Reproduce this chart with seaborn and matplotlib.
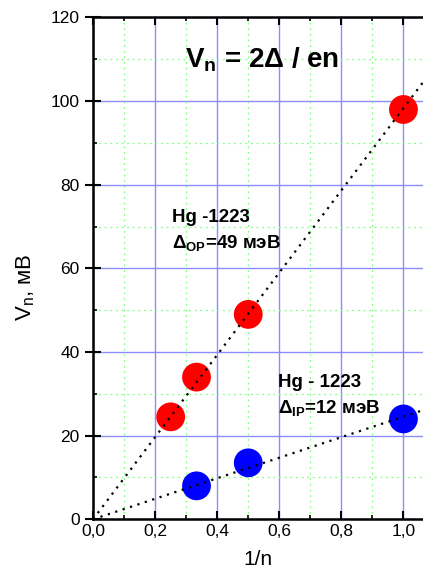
import numpy as np
import pandas as pd
import seaborn as sns
import matplotlib.pyplot as plt
from matplotlib.ticker import MultipleLocator, FuncFormatter

# data
x_op = [0.25, 1 / 3, 0.5, 1.0]
v_op = [24.5, 34.0, 49.0, 98.0]
x_ip = [1 / 3, 0.5, 1.0]
v_ip = [8.0, 13.5, 24.0]
x_max = 1.063

sns.set_style("ticks")
plt.rcParams["font.family"] = ["Liberation Sans", "DejaVu Sans"]
plt.rcParams["mathtext.fontset"] = "custom"
plt.rcParams["mathtext.rm"] = "Liberation Sans"
plt.rcParams["mathtext.it"] = "Liberation Sans"
plt.rcParams["mathtext.bf"] = "Liberation Sans:bold"
for key in ["text.color", "axes.labelcolor", "xtick.color", "ytick.color", "axes.edgecolor"]:
    plt.rcParams[key] = "black"

df_op = pd.DataFrame({"x": x_op, "v": v_op})
df_ip = pd.DataFrame({"x": x_ip, "v": v_ip})

# fits through origin
k_op = np.sum(df_op.x * df_op.v) / np.sum(df_op.x ** 2)
k_ip = np.sum(df_ip.x * df_ip.v) / np.sum(df_ip.x ** 2)
fit_x = np.array([0.0, x_max])
fit = pd.DataFrame({"x": fit_x, "op": k_op * fit_x, "ip": k_ip * fit_x})

fig = plt.figure(figsize=(4.23, 5.77), dpi=100)
ax = fig.add_axes([0.22, 0.1, 0.78, 0.8697])

# grid
ax.xaxis.set_major_locator(MultipleLocator(0.2))
ax.xaxis.set_minor_locator(MultipleLocator(0.1))
ax.yaxis.set_major_locator(MultipleLocator(20))
ax.yaxis.set_minor_locator(MultipleLocator(10))
ax.grid(which="major", color="#8c8cff", linewidth=1, linestyle="-")
ax.grid(which="minor", color="#80ff80", linewidth=0.9, linestyle=(0, (1.5, 3)))
ax.set_axisbelow(True)

sns.lineplot(data=fit, x="x", y="op", ax=ax, color="black", linestyle=(0, (1, 2.5)), linewidth=1.6)
sns.lineplot(data=fit, x="x", y="ip", ax=ax, color="black", linestyle=(0, (1, 2.5)), linewidth=1.6)
sns.scatterplot(data=df_op, x="x", y="v", ax=ax, color="#ff0000", s=430, edgecolor="none", zorder=1.5)
sns.scatterplot(data=df_ip, x="x", y="v", ax=ax, color="#0000ff", s=430, edgecolor="none", zorder=1.5)

ax.set_xlim(0, x_max)
ax.set_ylim(0, 120)

ax.xaxis.set_major_formatter(FuncFormatter(lambda v, p: f"{v:.1f}".replace(".", ",")))
ax.tick_params(axis="x", which="major", direction="in", length=6, width=1.5, labelsize=12.5, top=True)
ax.tick_params(axis="x", which="minor", direction="in", length=3, width=1.2, top=True)
ax.tick_params(axis="y", which="major", direction="inout", length=12, width=1.5, labelsize=12.5)
ax.tick_params(axis="y", which="minor", direction="in", length=3, width=1.2)
for side in ["left", "bottom", "top"]:
    ax.spines[side].set_linewidth(1.8)
ax.spines["right"].set_visible(False)

ax.set_xlabel("1/n", fontsize=15, labelpad=8)
ax.set_ylabel(r"V$_\mathregular{n}$, мВ", fontsize=16)
ax.yaxis.set_label_coords(-0.17, 0.463)

ax.text(0.295, 109.8, r"$\mathbf{V_n}$ = 2$\mathbf{\Delta}$ / en", fontsize=20,
        fontweight="bold", va="center", ha="left")
ax.text(0.255, 72.2, "Hg -1223", fontsize=13.5, fontweight="bold", va="center")
ax.text(0.255, 66.0, r"$\mathbf{\Delta_{OP}}$=49 мэВ", fontsize=13.5, fontweight="bold", va="center")
ax.text(0.597, 32.7, "Hg - 1223", fontsize=13.5, fontweight="bold", va="center")
ax.text(0.597, 26.5, r"$\mathbf{\Delta_{IP}}$=12 мэВ", fontsize=13.5, fontweight="bold", va="center")

fig.savefig("out.png", dpi=100)
